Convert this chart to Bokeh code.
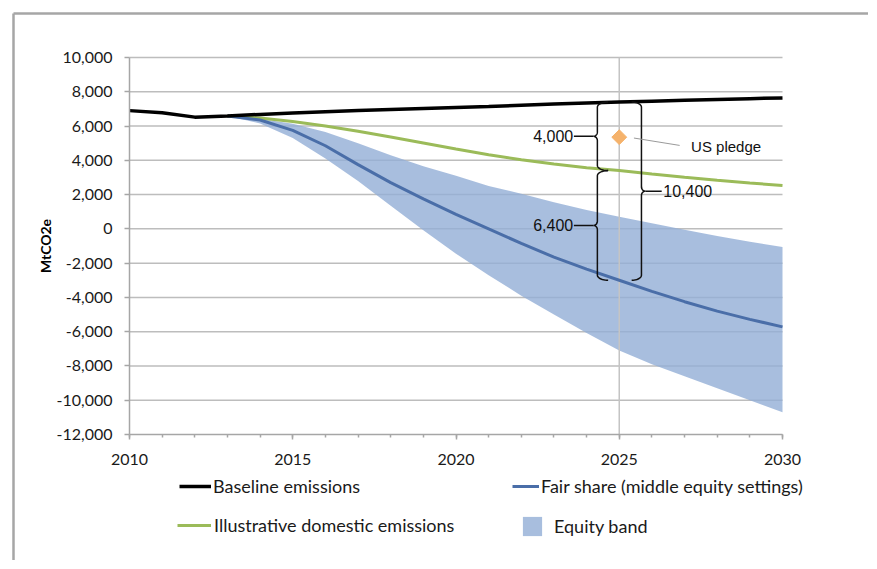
import numpy as np
from bokeh.plotting import figure
from bokeh.models import (Range1d, SingleIntervalTicker, NumeralTickFormatter,
                          Legend, LegendItem)
from bokeh.embed import file_html
from bokeh.resources import INLINE
from bokeh.core.properties import value

# ---------------- data ----------------
years = list(range(2010, 2031))
baseline = [6900, 6780, 6520, 6580, 6680, 6760, 6830, 6900, 6960, 7020, 7080,
            7140, 7210, 7280, 7340, 7400, 7450, 7500, 7550, 7600, 7640]

years_p = list(range(2013, 2031))
domestic = [6580, 6470, 6270, 6000, 5700, 5360, 5010, 4660, 4330, 4030, 3780,
            3570, 3400, 3200, 3010, 2840, 2680, 2530]
fair_share = [6580, 6350, 5750, 4850, 3750, 2700, 1750, 850, 0, -850, -1650,
              -2350, -3000, -3650, -4250, -4800, -5280, -5720]
band_upper = [6580, 6420, 6130, 5650, 5000, 4300, 3650, 3100, 2500, 2050, 1550,
              1100, 700, 330, -50, -420, -750, -1060]
band_lower = [6580, 6150, 5300, 4100, 2800, 1350, -80, -1450, -2700, -3900, -5000,
              -6080, -7100, -7900, -8600, -9300, -10000, -10700]

pledge_year = 2025
pledge_value = 5350
pledge_label = "US pledge"

legend_labels = ["Baseline emissions", "Fair share (middle equity settings)",
                 "Illustrative domestic emissions", "Equity band"]
y_label = "MtCO2e"
x_min, x_max = 2010, 2030
y_min, y_max = -12000, 10000
y_step = 2000

C_BASE, C_DOM, C_FAIR, C_BAND = "#000000", "#9bbb59", "#4a6ea8", "#92aed6"
GRID = "#bdbdbd"
AXIS = "#a6a6a6"

# ---------------- layout (canvas pixels) ----------------
W, H = 868, 560
PX_L, PX_R = 129, 782      # where x_min / x_max sit
PY_T, PY_B = 57, 434       # where y_max / y_min sit
BOX_X, BOX_Y = 13, 13      # outer chart-area border
kx = (x_max - x_min) / (PX_R - PX_L)
ky = (y_max - y_min) / (PY_B - PY_T)
xr = Range1d(x_min - PX_L * kx, x_max + (W - PX_R) * kx)
yr = Range1d(y_min - (H - PY_B) * ky, y_max + PY_T * ky)

p = figure(width=W, height=H, output_backend="svg", toolbar_location=None,
           x_range=xr, y_range=yr, min_border=0, min_border_left=0,
           min_border_right=0, min_border_top=0, min_border_bottom=0)
p.outline_line_color = None
p.background_fill_color = "white"
p.border_fill_color = "white"
p.grid.visible = False

# outer border of the chart area (left and top edges)
bx = xr.start + BOX_X * kx
by = yr.end - BOX_Y * ky
p.segment(x0=[bx, bx], y0=[yr.start, by], x1=[bx, xr.end], y1=[by, by],
          line_color="#a6a6a6", line_width=2.5)

p.xaxis.fixed_location = y_min
p.yaxis.fixed_location = x_min
p.xaxis.bounds = (x_min, x_max)
p.yaxis.bounds = (y_min, y_max)
p.xaxis.ticker = SingleIntervalTicker(interval=5, num_minor_ticks=5)
p.yaxis.ticker = SingleIntervalTicker(interval=y_step, num_minor_ticks=0)
p.yaxis.formatter = NumeralTickFormatter(format="0,0")
for ax in (p.xaxis, p.yaxis):
    ax.axis_line_color = AXIS
    ax.axis_line_width = 1.5
    ax.major_tick_line_color = AXIS
    ax.major_tick_line_width = 1.5
    ax.minor_tick_line_color = AXIS
    ax.minor_tick_line_width = 1.5
    ax.major_tick_in = 0
    ax.minor_tick_in = 0
    ax.major_label_text_font = "Lato"
    ax.major_label_text_font_size = "16px"
    ax.major_label_text_color = "#1a1a1a"
p.xaxis.major_tick_out = 5
p.xaxis.minor_tick_out = 3
p.yaxis.major_tick_out = 5
p.yaxis.minor_tick_line_color = None
p.xaxis.major_label_standoff = 14
p.yaxis.major_label_standoff = 12
p.yaxis.axis_label = y_label
p.yaxis.axis_label_text_font = "Lato"
p.yaxis.axis_label_text_font_style = "bold"
p.yaxis.axis_label_text_font_size = "14px"
p.yaxis.axis_label_text_color = "#000000"
p.yaxis.axis_label_standoff = 0

# ---------------- gridlines ----------------
grid_y = list(range(y_min + y_step, y_max + 1, y_step))
p.segment(x0=[x_min] * len(grid_y), y0=grid_y, x1=[x_max] * len(grid_y), y1=grid_y,
          line_color=GRID, line_width=1.5)

# ---------------- series ----------------
r_band = p.varea(x=years_p, y1=band_lower, y2=band_upper, fill_color=C_BAND,
                 fill_alpha=0.8)
p.segment(x0=[pledge_year], y0=[y_min], x1=[pledge_year], y1=[y_max],
          line_color="#c4c4c4", line_width=1.5)
r_dom = p.line(years_p, domestic, line_color=C_DOM, line_width=3)
r_fair = p.line(years_p, fair_share, line_color=C_FAIR, line_width=3)
r_base = p.line(years, baseline, line_color=C_BASE, line_width=3.5)

# ---------------- braces ----------------
i25 = years.index(pledge_year)
j25 = years_p.index(pledge_year)
b25 = baseline[i25]
d25 = domestic[j25]
f25 = fair_share[j25]


def brace(xs, ytop, ybot, d, c, t, r_end, r_tip, n=12):
    ymid = (ytop + ybot) / 2
    X, Y = [], []
    th = np.linspace(np.pi / 2, 0, n)
    cx, cy = xs - d * c, ytop - r_end
    X += list(cx + d * c * np.cos(th)); Y += list(cy + r_end * np.sin(th))
    th = np.linspace(np.pi, 1.5 * np.pi, n)
    cx, cy = xs + d * t, ymid + r_tip
    X += list(cx + d * t * np.cos(th)); Y += list(cy + r_tip * np.sin(th))
    th = np.linspace(0.5 * np.pi, np.pi, n)
    cx, cy = xs + d * t, ymid - r_tip
    X += list(cx + d * t * np.cos(th)); Y += list(cy + r_tip * np.sin(th))
    th = np.linspace(0, -0.5 * np.pi, n)
    cx, cy = xs - d * c, ybot + r_end
    X += list(cx + d * c * np.cos(th)); Y += list(cy + r_end * np.sin(th))
    return X, Y, ymid


txt_font = value("Liberation Sans")
xs_l = pledge_year - 0.67
xs_r = pledge_year + 0.68
tip = 0.12
for ytop, ybot in ((b25, d25), (d25, f25)):
    X, Y, ym = brace(xs_l, ytop, ybot, -1, 0.33, tip, 300, 250)
    p.line(X, Y, line_color="#111111", line_width=1.5)
    p.line([xs_l - tip, xs_l - tip - 0.6], [ym, ym], line_color="#111111", line_width=1.5)
    p.text([xs_l - tip - 0.62], [ym], text=[f"{ytop - ybot:,.0f}"], text_align="right",
           text_baseline="middle", text_font=txt_font, text_font_size="16px",
           text_color="#111111")
X, Y, ym = brace(xs_r, b25, f25, 1, 0.3, tip, 300, 250)
p.line(X, Y, line_color="#111111", line_width=1.5)
p.line([xs_r + tip, xs_r + tip + 0.5], [ym, ym], line_color="#111111", line_width=1.5)
p.text([xs_r + tip + 0.55], [ym], text=[f"{b25 - f25:,.0f}"], text_align="left",
       text_baseline="middle", text_font=txt_font, text_font_size="16px",
       text_color="#111111")

# ---------------- pledge ----------------
p.line([pledge_year + 0.45, pledge_year + 1.85], [pledge_value - 50, pledge_value - 480],
       line_color="#9a9a9a", line_width=1)
p.scatter([pledge_year], [pledge_value], marker="square", angle=np.pi / 4, size=10.5,
          fill_color="#f5b26b", line_color="#f5b26b")
p.text([pledge_year + 2.2], [pledge_value - 520], text=[pledge_label], text_align="left",
       text_baseline="middle", text_font=txt_font, text_font_size="15px",
       text_color="#111111")


# ---------------- legends ----------------
def add_leg(renderer, label, x, y, gw, gh, standoff):
    leg = Legend(items=[LegendItem(label=label, renderers=[renderer])],
                 location=(x, y), orientation="vertical", glyph_width=gw,
                 glyph_height=gh, label_height=gh, label_standoff=standoff,
                 padding=0, margin=0, spacing=0, border_line_alpha=0,
                 background_fill_alpha=0, label_text_font="Lato",
                 label_text_font_size="18px", label_text_color="#1a1a1a")
    p.add_layout(leg, "center")


add_leg(r_base, legend_labels[0], 179, 63, 32, 20, 2)
add_leg(r_fair, legend_labels[1], 512, 63, 27, 20, 2)
add_leg(r_dom, legend_labels[2], 177, 24, 34, 20, 3)
add_leg(r_band, legend_labels[3], 520, 22, 24, 24, 10)

open("out.html", "w").write(file_html(p, INLINE))
